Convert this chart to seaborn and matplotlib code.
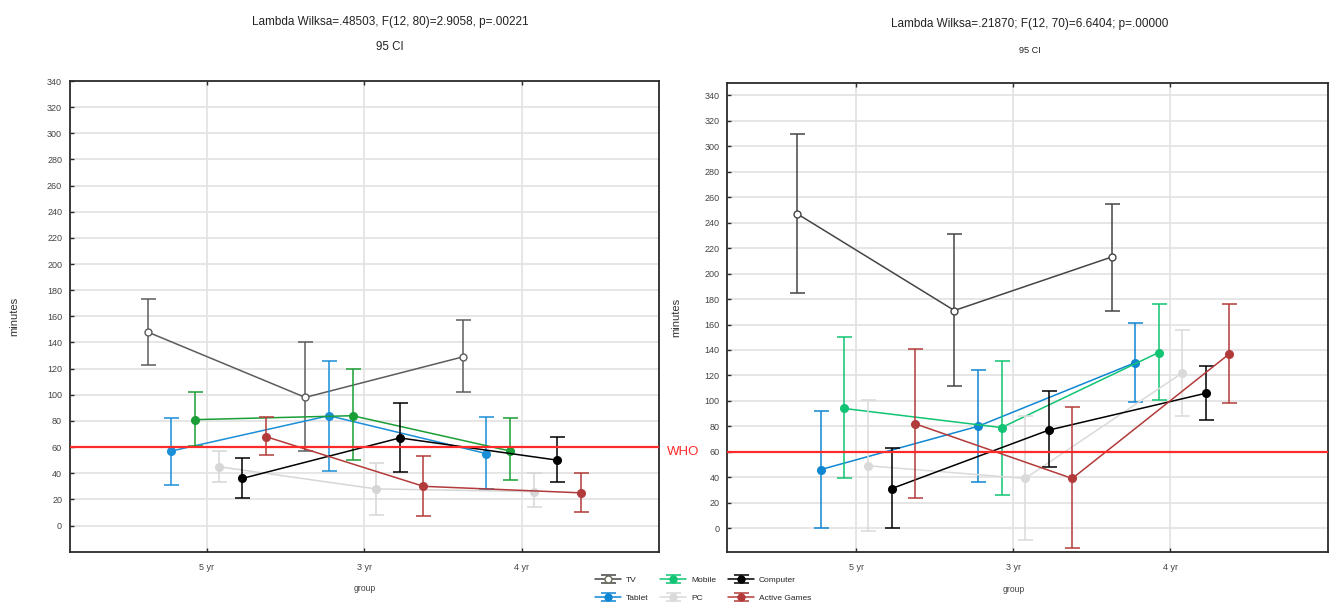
import numpy as np
import pandas as pd
import matplotlib
matplotlib.use("Agg")
import matplotlib.pyplot as plt
import matplotlib.transforms as mtransforms
from matplotlib.lines import Line2D
from matplotlib.legend_handler import HandlerTuple
import seaborn as sns

# ---------------- data ----------------
categories = ["5 yr", "3 yr", "4 yr"]
series_names = ["TV", "Tablet", "Mobile", "PC", "Computer", "Active Games"]

left_title = "Lambda Wilksa=.48503, F(12, 80)=2.9058, p=.00221"
right_title = "Lambda Wilksa=.21870; F(12, 70)=6.6404; p=.00000"
subtitle = "95 CI"

# left panel (means and 95% CI bounds, minutes)
left_tv_mean = [148, 98, 129]
left_tv_low = [123, 57, 102]
left_tv_high = [173, 140, 157]
left_tablet_mean = [57, 84, 55]
left_tablet_low = [31, 42, 28]
left_tablet_high = [82, 126, 83]
left_mobile_mean = [81, 84, 57]
left_mobile_low = [61, 50, 35]
left_mobile_high = [102, 120, 82]
left_pc_mean = [45, 28, 26]
left_pc_low = [33, 8, 14]
left_pc_high = [57, 48, 40]
left_computer_mean = [36, 67, 50]
left_computer_low = [21, 41, 33]
left_computer_high = [52, 94, 68]
left_active_mean = [68, 30, 25]
left_active_low = [54, 7, 10]
left_active_high = [83, 53, 40]

# right panel
right_tv_mean = [247, 171, 213]
right_tv_low = [185, 112, 171]
right_tv_high = [310, 231, 255]
right_tablet_mean = [46, 80, 130]
right_tablet_low = [0, 36, 99]
right_tablet_high = [92, 124, 161]
right_mobile_mean = [94, 79, 138]
right_mobile_low = [39, 26, 101]
right_mobile_high = [150, 131, 176]
right_pc_mean = [49, 39, 122]
right_pc_low = [-2, -9, 88]
right_pc_high = [101, 88, 156]
right_computer_mean = [31, 77, 106]
right_computer_low = [0, 48, 85]
right_computer_high = [63, 108, 127]
right_active_mean = [82, 39, 137]
right_active_low = [24, -16, 98]
right_active_high = [141, 95, 176]

who_limit = 60
who_label = "WHO"


def build_frame(means, lows, highs):
    rows = []
    for name, m, lo, hi in zip(series_names, means, lows, highs):
        for ci, cat in enumerate(categories):
            rows.append(dict(series=name, category=cat, cat_idx=ci,
                             mean=m[ci], low=lo[ci], high=hi[ci]))
    return pd.DataFrame(rows)


left_df = build_frame(
    [left_tv_mean, left_tablet_mean, left_mobile_mean, left_pc_mean, left_computer_mean, left_active_mean],
    [left_tv_low, left_tablet_low, left_mobile_low, left_pc_low, left_computer_low, left_active_low],
    [left_tv_high, left_tablet_high, left_mobile_high, left_pc_high, left_computer_high, left_active_high],
)
right_df = build_frame(
    [right_tv_mean, right_tablet_mean, right_mobile_mean, right_pc_mean, right_computer_mean, right_active_mean],
    [right_tv_low, right_tablet_low, right_mobile_low, right_pc_low, right_computer_low, right_active_low],
    [right_tv_high, right_tablet_high, right_mobile_high, right_pc_high, right_computer_high, right_active_high],
)

# ---------------- style ----------------
sns.set_theme(style="whitegrid")
plt.rcParams["font.family"] = ["Liberation Sans", "DejaVu Sans"]

left_colors = {"TV": "#5c5c5c", "Tablet": "#1b8ed8", "Mobile": "#1a9e36",
               "PC": "#d6d6d6", "Computer": "#000000", "Active Games": "#b33a3a"}
right_colors = {"TV": "#454545", "Tablet": "#0f86d2", "Mobile": "#10c473",
                "PC": "#dadada", "Computer": "#000000", "Active Games": "#b33a3a"}
who_color = "#ff2a2a"
dodge_step = 0.15

fig = plt.figure(figsize=(13.31, 6.10), dpi=100)
ax_l = fig.add_axes([0.0524, 0.0956, 0.4427, 0.7716])
ax_r = fig.add_axes([0.5464, 0.0946, 0.4511, 0.7698])


def draw_panel(ax, df, colors, xlim, ylim, ylab_x, xlab_y):
    containers = {}
    n = len(series_names)
    for i, name in enumerate(series_names):
        sub = df[df["series"] == name].sort_values("cat_idx")
        xpos = sub["cat_idx"].to_numpy() + (i - (n - 1) / 2) * dodge_step
        m = sub["mean"].to_numpy()
        lo = sub["low"].to_numpy()
        hi = sub["high"].to_numpy()
        c = colors[name]
        face = "white" if name == "TV" else c
        z = 3 + i * 0.1
        cont = ax.errorbar(xpos, m, yerr=[m - lo, hi - m], fmt="none", ecolor=c,
                           elinewidth=1.1, capsize=5.4, capthick=1.1, zorder=z)
        containers[name] = cont
        sns.lineplot(x=xpos, y=m, ax=ax, color=c, linewidth=1.1, marker="o",
                     markersize=5.5 if name != "TV" else 5.0,
                     markerfacecolor=face, markeredgecolor=c,
                     markeredgewidth=1.0, legend=False, zorder=z + 0.05)
    ax.axhline(who_limit, color=who_color, linewidth=1.6, zorder=10)

    ax.set_xlim(*xlim)
    ax.set_ylim(*ylim)
    ax.set_xticks(range(len(categories)))
    ax.set_xticklabels(categories)
    ax.set_yticks(np.arange(0, 341, 20))
    ax.grid(True, color="#e2e2e2", linewidth=1.2)
    ax.set_axisbelow(True)
    for sp in ax.spines.values():
        sp.set_visible(True)
        sp.set_color("#2b2b2b")
        sp.set_linewidth(1.3)
    ax.tick_params(axis="both", which="major", direction="in", length=3, width=1,
                   color="#2b2b2b", labelsize=6.5, labelcolor="#444444")
    ax.tick_params(axis="x", top=True, bottom=True, pad=8)
    ax.tick_params(axis="y", left=True, pad=5.5)
    ax.set_ylabel("minutes", fontsize=8, color="#333333")
    ax.yaxis.set_label_coords(ylab_x, 0.5)
    ax.set_xlabel("group", fontsize=6.2, color="#444444")
    blend = mtransforms.blended_transform_factory(ax.transData, ax.transAxes)
    ax.xaxis.set_label_coords(1, xlab_y, transform=blend)
    return containers


draw_panel(ax_l, left_df, left_colors, (-0.87, 2.87), (-20, 340), -0.086, -0.069)
cont_r = draw_panel(ax_r, right_df, right_colors, (-0.82, 3.0), (-19, 350), -0.077, -0.0696)

ax_r.text(-0.074, who_limit, who_label, color=who_color, fontsize=9.5,
          ha="center", va="center",
          transform=mtransforms.blended_transform_factory(ax_r.transAxes, ax_r.transData))

# titles
fig.text(390 / 1331, 1 - 21.7 / 610, left_title, ha="center", va="center", fontsize=8.5, color="#222222")
fig.text(390 / 1331, 1 - 46.7 / 610, subtitle, ha="center", va="center", fontsize=8.3, color="#222222")
fig.text(1030 / 1331, 1 - 24 / 610, right_title, ha="center", va="center", fontsize=8.5, color="#222222")
fig.text(1030 / 1331, 1 - 50.7 / 610, subtitle, ha="center", va="center", fontsize=6.6, color="#222222")

# legend
handles = []
for name in series_names:
    c = right_colors[name]
    face = "white" if name == "TV" else c
    ln = Line2D([], [], color=c, linewidth=1.1, marker="o", markersize=5,
                markerfacecolor=face, markeredgecolor=c if name != "TV" else "#6b6b55")
    handles.append((cont_r[name], ln))
fig.legend(handles, series_names, ncol=3, loc="center",
           bbox_to_anchor=(703 / 1331, 1 - 589 / 610), frameon=False,
           fontsize=6.0, handlelength=3.1, handletextpad=0.6, columnspacing=1.4,
           labelspacing=1.15, handler_map={tuple: HandlerTuple(ndivide=1)})

fig.savefig("out.png", dpi=100)
